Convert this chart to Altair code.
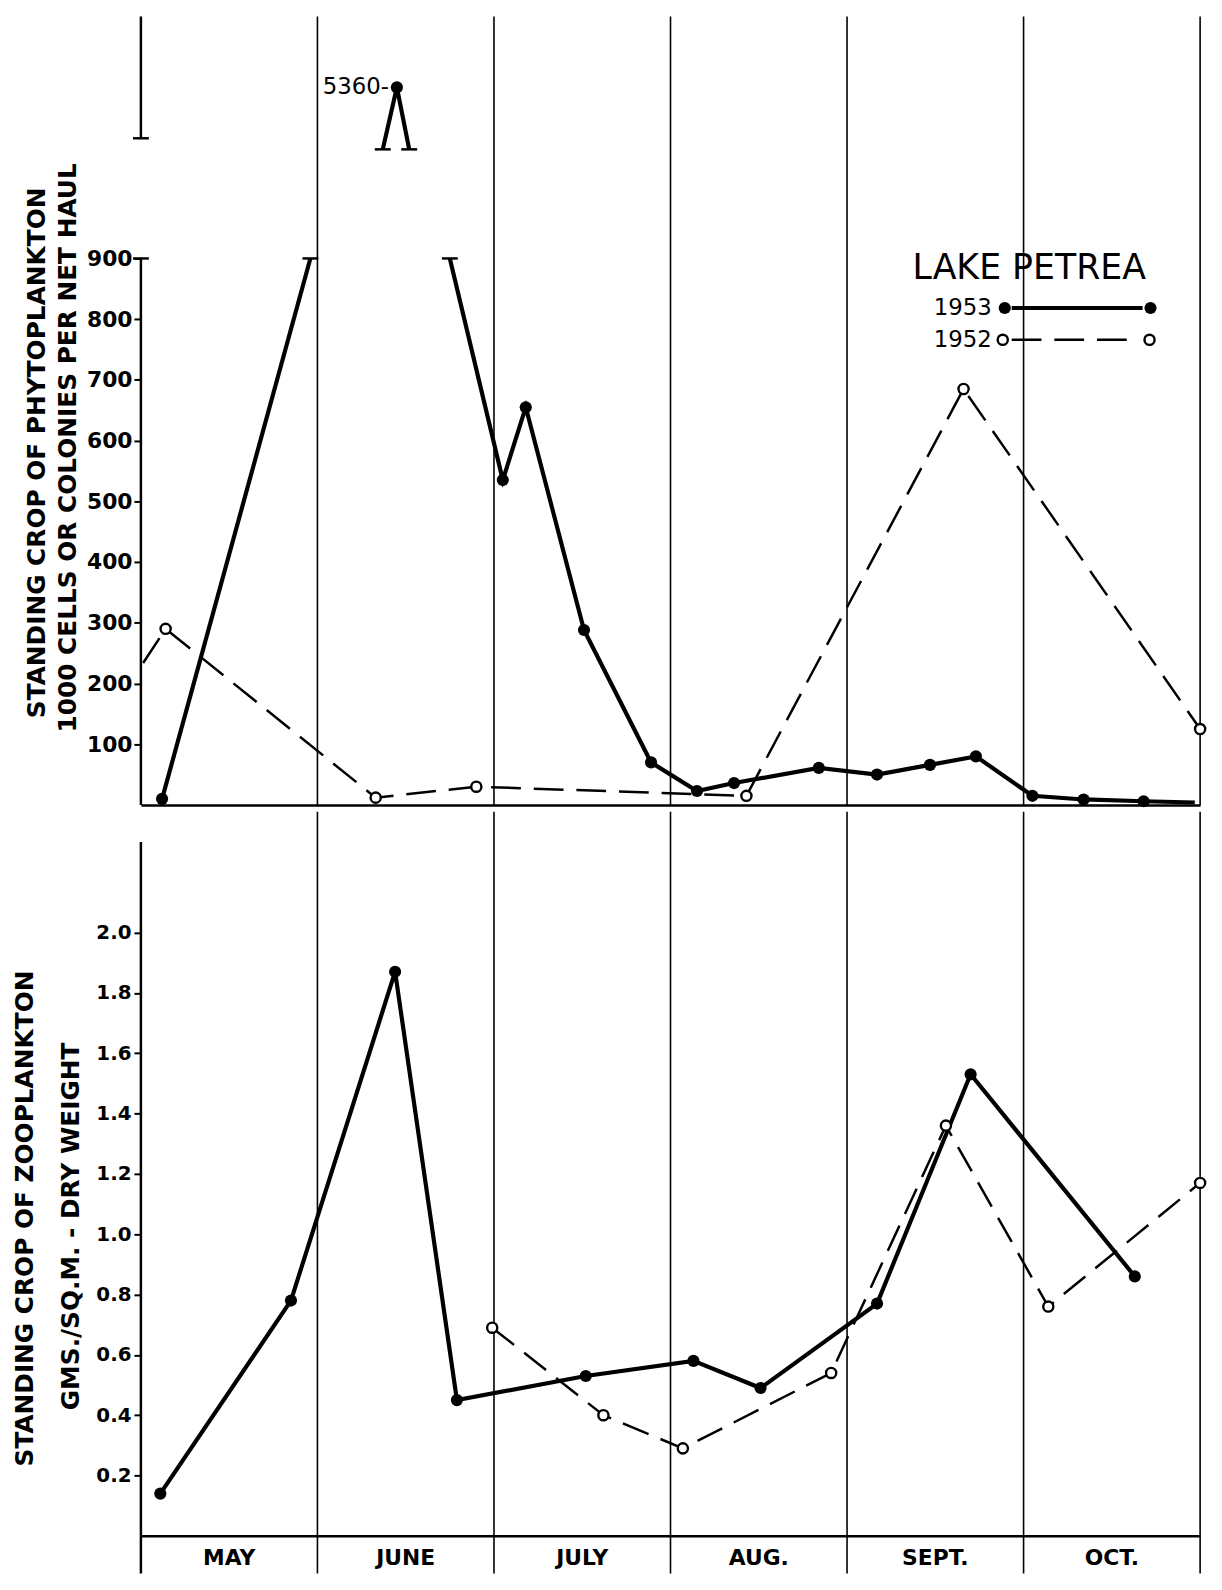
import altair as alt
import pandas as pd

FONT = "DejaVu Sans"

# ---------------- data ----------------
month_bounds = [1, 2, 3, 4, 5, 6]
month_centers = [0.5, 1.5, 2.5, 3.5, 4.5, 5.5]
month_names = ["MAY", "JUNE", "JULY", "AUG.", "SEPT.", "OCT."]

phyto_ticks = [100, 200, 300, 400, 500, 600, 700, 800, 900]
zoo_ticks = [0.2, 0.4, 0.6, 0.8, 1.0, 1.2, 1.4, 1.6, 1.8, 2.0]

# broken phytoplankton axis: lower part and upper stub
phyto_axis_low = [0, 900]
phyto_axis_high = [4900, 6000]

# Phytoplankton 1953 (month offset from May 1, 1000 cells per haul)
p53_month = [0.12, 0.96, 1.37, 1.45, 1.52, 1.75, 2.05, 2.18, 2.51, 2.89,
             3.15, 3.36, 3.84, 4.17, 4.47, 4.73, 5.05, 5.34, 5.68, 5.97]
p53_value = [10, 900, 4800, 5360, 4800, 900, 535, 655, 288, 70,
             23, 36, 61, 50, 66, 80, 15, 9, 6, 4]
p53_piece = [0, 0, 1, 1, 1, 2, 2, 2, 2, 2, 2, 2, 2, 2, 2, 2, 2, 2, 2, 2]
p53_kind = ["obs", "cut", "cut", "obs", "cut", "cut", "obs", "obs", "obs", "obs",
            "obs", "obs", "obs", "obs", "obs", "obs", "obs", "obs", "obs", "end"]

# Phytoplankton 1952
p52_month = [-0.12, 0.14, 1.33, 1.90, 3.43, 4.66, 6.0]
p52_value = [175, 290, 12, 30, 15, 685, 125]
p52_kind = ["off", "obs", "obs", "obs", "obs", "obs", "obs"]

# Zooplankton 1953 (g / sq. m dry weight)
z53_month = [0.11, 0.85, 1.44, 1.79, 2.52, 3.13, 3.51, 4.17, 4.70, 5.63]
z53_value = [0.14, 0.78, 1.87, 0.45, 0.53, 0.58, 0.49, 0.77, 1.53, 0.86]

# Zooplankton 1952
z52_month = [1.99, 2.62, 3.07, 3.91, 4.56, 5.14, 6.0]
z52_value = [0.69, 0.40, 0.29, 0.54, 1.36, 0.76, 1.17]

# ---------------- layout ----------------
W = 1068
H_TOP = 795
H_BOT = 730
EXT = 38
DOT = 150
RING = 105

xs = alt.Scale(domain=[0, 6], nice=False, zero=False)
ys_top = alt.Scale(domain=[0, 900, 4800, 6000], range=[H_TOP, 244, 134, 0],
                   nice=False, zero=False)
ys_bot = alt.Scale(domain=[0, 2.4], nice=False, zero=False)

x_axis = alt.Axis(title=None, labels=False, ticks=False, grid=False, domain=True,
                  domainColor="black", domainWidth=2.5)
y_axis_top = alt.Axis(title=None, values=phyto_ticks, grid=False, domain=False,
                      tickSize=7, tickWidth=2, tickColor="black", labelFontSize=22,
                      labelFont=FONT, labelFontWeight="bold", labelColor="black",
                      labelPadding=2)
y_axis_bot = alt.Axis(title=None, values=zoo_ticks, format=".1f", grid=False,
                      domain=False, tickSize=7, tickWidth=2, tickColor="black",
                      labelFontSize=20, labelFont=FONT, labelFontWeight="bold",
                      labelColor="black", labelPadding=3)

one = pd.DataFrame({"k": [0]})


def label(text, x, y, **kw):
    return alt.Chart(pd.DataFrame({"t": [text]})).mark_text(
        font=FONT, color="black", **kw
    ).encode(x=alt.value(x), y=alt.value(y), text="t:N")


def dot(x, y, filled):
    if filled:
        m = alt.Chart(one).mark_circle(size=DOT, color="black", opacity=1)
    else:
        m = alt.Chart(one).mark_point(shape="circle", filled=True, fill="white",
                                      stroke="black", strokeWidth=2.4, size=RING,
                                      opacity=1)
    return m.encode(x=alt.value(x), y=alt.value(y))


df53 = pd.DataFrame({"month": p53_month, "value": p53_value, "piece": p53_piece,
                     "kind": p53_kind, "order": list(range(len(p53_month)))})
df52 = pd.DataFrame({"month": p52_month, "value": p52_value, "kind": p52_kind})
dz53 = pd.DataFrame({"month": z53_month, "value": z53_value})
dz52 = pd.DataFrame({"month": z52_month, "value": z52_value})
dbounds = pd.DataFrame({"b": month_bounds})
dmonths = pd.DataFrame({"m": month_centers, "t": month_names})

XT = lambda f: alt.X(f, type="quantitative", scale=xs, axis=x_axis)
YT = lambda f: alt.Y(f, type="quantitative", scale=ys_top, axis=y_axis_top)
YB = lambda f: alt.Y(f, type="quantitative", scale=ys_bot, axis=y_axis_bot)

# ---------------- top panel ----------------
t_rules = alt.Chart(dbounds).mark_rule(color="black", strokeWidth=1.6).encode(
    x=XT("b"), y=alt.value(0), y2=alt.value(H_TOP))
t_axis_low = alt.Chart(one).mark_rule(color="black", strokeWidth=2.5).encode(
    x=alt.XDatum(0, scale=xs, axis=x_axis),
    y=alt.YDatum(phyto_axis_low[0], scale=ys_top, axis=y_axis_top),
    y2=alt.Y2Datum(phyto_axis_low[1]))
t_axis_high = alt.Chart(one).mark_rule(color="black", strokeWidth=2.5).encode(
    x=alt.XDatum(0, scale=xs, axis=x_axis),
    y=alt.YDatum(phyto_axis_high[0], scale=ys_top, axis=y_axis_top),
    y2=alt.Y2Datum(phyto_axis_high[1]))
t_axis_caps = alt.Chart(pd.DataFrame({"v": [phyto_axis_low[1], phyto_axis_high[0]]})).mark_tick(
    orient="horizontal", size=16, thickness=2.5, color="black", opacity=1).encode(
    x=alt.XDatum(0, scale=xs, axis=x_axis), y=YT("v"))

t_l52 = alt.Chart(df52).mark_line(color="black", strokeWidth=2.5,
                                  strokeDash=[30, 13], clip=True).encode(
    x=XT("month"), y=YT("value"))
t_p52 = alt.Chart(df52).transform_filter(alt.datum.kind == "obs").mark_point(
    shape="circle", filled=True, fill="white", stroke="black", strokeWidth=2.4,
    size=RING, opacity=1).encode(x=XT("month"), y=YT("value"))
t_l53 = alt.Chart(df53).mark_line(color="black", strokeWidth=4.2).encode(
    x=XT("month"), y=YT("value"), detail="piece:N", order="order:Q")
t_p53 = alt.Chart(df53).transform_filter(alt.datum.kind == "obs").mark_circle(
    size=DOT, color="black", opacity=1).encode(x=XT("month"), y=YT("value"))
t_caps = alt.Chart(df53).transform_filter(alt.datum.kind == "cut").mark_tick(
    orient="horizontal", size=16, thickness=2.5, color="black", opacity=1).encode(
    x=XT("month"), y=YT("value"))

peak_i = p53_value.index(max(p53_value))
t_peak = alt.Chart(pd.DataFrame({"t": [f"{p53_value[peak_i]}-"]})).mark_text(
    font=FONT, fontSize=23, align="right", baseline="middle", dx=-8, color="black").encode(
    x=alt.XDatum(p53_month[peak_i], scale=xs, axis=x_axis),
    y=alt.YDatum(p53_value[peak_i], scale=ys_top, axis=y_axis_top), text="t:N")

# legend (manual)
leg = [
    label("LAKE PETREA", 778, 254, fontSize=35, align="left", baseline="middle"),
    label("1953", 858, 294, fontSize=23, align="right", baseline="middle"),
    label("1952", 858, 326, fontSize=23, align="right", baseline="middle"),
    alt.Chart(one).mark_rule(color="black", strokeWidth=4).encode(
        x=alt.value(878), x2=alt.value(1010), y=alt.value(294)),
    alt.Chart(one).mark_rule(color="black", strokeWidth=2.5, strokeDash=[30, 13]).encode(
        x=alt.value(878), x2=alt.value(1005), y=alt.value(326)),
    dot(871, 294, True), dot(1018, 294, True),
    dot(869, 326, False), dot(1017, 326, False),
]

t_titles = [
    label("STANDING CROP OF PHYTOPLANKTON", -105, 440, fontSize=25, fontWeight="bold",
          angle=270, align="center", baseline="middle"),
    label("1000 CELLS OR COLONIES PER NET HAUL", -73, 435, fontSize=25, fontWeight="bold",
          angle=270, align="center", baseline="middle"),
]

top = alt.layer(t_rules, t_axis_low, t_axis_high, t_axis_caps, t_l52, t_l53, t_p53,
                t_p52, t_caps, t_peak, *leg, *t_titles).properties(width=W, height=H_TOP)

# ---------------- bottom panel ----------------
b_rules = alt.Chart(dbounds).mark_rule(color="black", strokeWidth=1.6).encode(
    x=alt.X("b:Q", scale=xs, axis=x_axis), y=alt.value(0), y2=alt.value(H_BOT + EXT))
b_axis = alt.Chart(one).mark_rule(color="black", strokeWidth=2.5).encode(
    x=alt.XDatum(0, scale=xs, axis=x_axis),
    y=alt.YDatum(2.3, scale=ys_bot, axis=y_axis_bot), y2=alt.value(H_BOT + EXT))
b_l52 = alt.Chart(dz52).mark_line(color="black", strokeWidth=2.5,
                                  strokeDash=[28, 13]).encode(x=XT("month"), y=YB("value"))
b_p52 = alt.Chart(dz52).mark_point(
    shape="circle", filled=True, fill="white", stroke="black", strokeWidth=2.4,
    size=RING, opacity=1).encode(x=XT("month"), y=YB("value"))
b_l53 = alt.Chart(dz53).mark_line(color="black", strokeWidth=4.2).encode(
    x=XT("month"), y=YB("value"))
b_p53 = alt.Chart(dz53).mark_circle(size=DOT, color="black", opacity=1).encode(
    x=XT("month"), y=YB("value"))
b_months = alt.Chart(dmonths).mark_text(
    font=FONT, fontSize=22, fontWeight="bold", baseline="middle", color="black").encode(
    x=XT("m"), y=alt.value(H_BOT + 22), text="t:N")

b_titles = [
    label("STANDING CROP OF ZOOPLANKTON", -117, 410, fontSize=25, fontWeight="bold",
          angle=270, align="center", baseline="middle"),
    label("GMS./SQ.M. - DRY WEIGHT", -70, 418, fontSize=25, fontWeight="bold",
          angle=270, align="center", baseline="middle"),
]

bottom = alt.layer(b_rules, b_axis, b_l52, b_l53, b_p53, b_p52, b_months,
                   *b_titles).properties(width=W, height=H_BOT)

chart = alt.vconcat(top, bottom, spacing=0).properties(
    padding={"left": 5, "top": 0, "right": 4, "bottom": 0},
    background="white",
).configure_view(stroke=None)

chart.save("out.html", embed_options={"renderer": "svg", "actions": False})
